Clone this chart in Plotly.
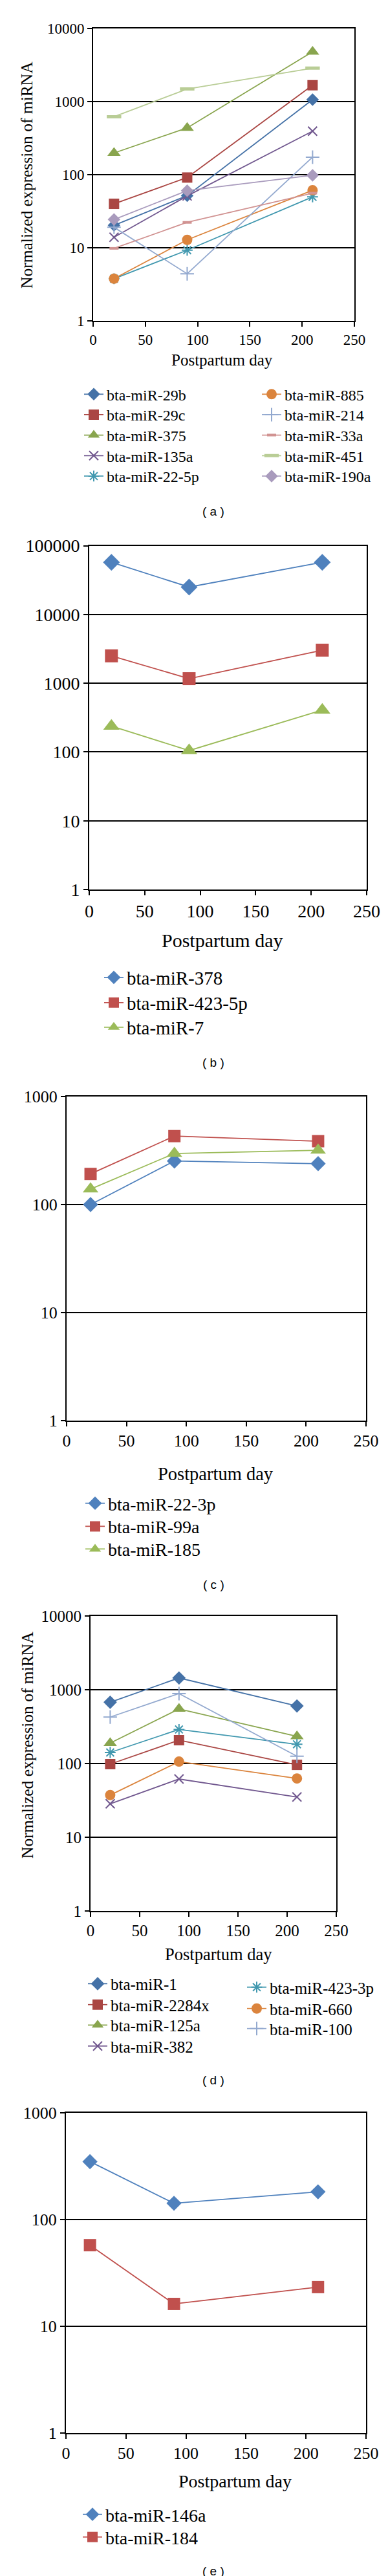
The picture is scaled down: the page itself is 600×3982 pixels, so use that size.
import plotly.graph_objects as go

W, H = 600, 3982
days = [20, 90, 210]
x_ticks = [0, 50, 100, 150, 200, 250]

# ---------------- Panel (a) data ----------------
a_names = ["bta-miR-29b", "bta-miR-29c", "bta-miR-375", "bta-miR-135a", "bta-miR-22-5p",
           "bta-miR-885", "bta-miR-214", "bta-miR-33a", "bta-miR-451", "bta-miR-190a"]
a_mir29b = [20.2, 51.5, 1057]
a_mir29c = [39.8, 91, 1660]
a_mir375 = [197, 434, 4760]
a_mir135a = [13.9, 51, 392]
a_mir22_5p = [3.77, 9.25, 49.5]
a_mir885 = [3.77, 12.8, 61]
a_mir214 = [19, 4.4, 173]
a_mir33a = [9.8, 22.2, 55.7]
a_mir451 = [617, 1477, 2846]
a_mir190a = [24.3, 60.2, 97.7]

# ---------------- Panel (b) data ----------------
b_names = ["bta-miR-378", "bta-miR-423-5p", "bta-miR-7"]
b_mir378 = [57400, 25060, 57400]
b_mir423_5p = [2500, 1166, 3027]
b_mir7 = [238, 105, 407]

# ---------------- Panel (c) data ----------------
c_names = ["bta-miR-22-3p", "bta-miR-99a", "bta-miR-185"]
c_mir22_3p = [100, 253, 239]
c_mir99a = [192, 430, 386]
c_mir185 = [139, 297, 318]

# ---------------- Panel (d) data ----------------
d_names = ["bta-miR-1", "bta-miR-2284x", "bta-miR-125a", "bta-miR-382",
           "bta-miR-423-3p", "bta-miR-660", "bta-miR-100"]
d_mir1 = [677, 1445, 603]
d_mir2284x = [98, 207, 95.8]
d_mir125a = [189, 550, 233]
d_mir382 = [28.4, 61.6, 35.1]
d_mir423_3p = [141, 289, 182]
d_mir660 = [37.3, 106, 62.6]
d_mir100 = [426, 888, 125.6]

# ---------------- Panel (e) data ----------------
e_names = ["bta-miR-146a", "bta-miR-184"]
e_mir146a = [349, 142, 182]
e_mir184 = [57.5, 16.2, 23.3]

SERIF = "Liberation Serif"
SANS = "Liberation Sans"

# style definitions (color, symbol, size, line width for open symbols)
xl = dict(
    blue="#4572A7", red="#AA4643", green="#89A54E", purple="#71588F", teal="#4198AF",
    orange="#DB843D", lblue="#93A9CF", pink="#D19392", lgreen="#B9CD96", lav="#A99BBD",
    blue2="#4F81BD", red2="#C0504D", green2="#9BBB59",
)

fig = go.Figure()

def fx(px):
    return px / W

def fy(py):
    return 1 - py / H

panels = [
    # name, x0, x1, y0(top), y1(bottom), decades, tick font, title font
    ("a", 136, 540, 35.6, 488, 4, 23, 25),
    ("b", 130, 559, 835.6, 1367, 5, 28, 30),
    ("c", 95, 558, 1687, 2188, 3, 26, 28.5),
    ("d", 132, 512, 2490, 2946, 4, 25, 26.5),
    ("e", 94, 558, 3258, 3753, 3, 26, 28),
]

layout_axes = {}
for i, (nm, x0, x1, y0, y1, dec, tfs, ttl) in enumerate(panels):
    k = "" if i == 0 else str(i + 1)
    layout_axes["xaxis" + k] = dict(
        domain=[fx(x0), fx(x1)], anchor="y" + k, range=[0, 250],
        tickvals=x_ticks, ticktext=[str(v) for v in x_ticks],
        showgrid=False, zeroline=False, showline=True, linecolor="black", linewidth=2,
        mirror=True, ticks="outside", ticklen=7, tickwidth=2, tickcolor="black",
        tickfont=dict(family=SERIF, size=tfs, color="black"), automargin=False,
    )
    yt = [10 ** j for j in range(dec + 1)]
    layout_axes["yaxis" + k] = dict(
        domain=[fy(y1), fy(y0)], anchor="x" + k, type="log", range=[0, dec],
        tickvals=yt, ticktext=[str(v) for v in yt],
        showgrid=True, gridcolor="black", gridwidth=1.6, zeroline=False,
        showline=True, linecolor="black", linewidth=2, mirror=True,
        ticks="outside", ticklen=7, tickwidth=2, tickcolor="black",
        tickfont=dict(family=SERIF, size=tfs, color="black"), automargin=False,
    )

legend_cfg = {}
leg_count = [0]

def add_series(panel_idx, name, vals, color, symbol, msize, lx_text, ly, lfs, open_w=None):
    leg_count[0] += 1
    n = leg_count[0]
    lname = "legend" if n == 1 else "legend%d" % n
    k = "" if panel_idx == 0 else str(panel_idx + 1)
    marker = dict(symbol=symbol, size=msize, color=color)
    if open_w is not None:
        marker["line"] = dict(color=color, width=open_w)
    else:
        marker["line"] = dict(width=0)
    fig.add_trace(go.Scatter(
        x=days, y=vals, name=name, mode="lines+markers",
        line=dict(color=color, width=1.8), marker=marker,
        xaxis="x" + k, yaxis="y" + k, legend=lname, showlegend=True,
    ))
    legend_cfg[lname] = dict(
        x=fx(lx_text - 42), y=fy(ly), xanchor="left", yanchor="middle",
        bgcolor="rgba(0,0,0,0)", borderwidth=0,
        font=dict(family=SERIF, size=lfs, color="black"),
        itemclick=False, itemdoubleclick=False,
    )

# Panel (a)
a_rows = [601.7, 633.3, 665, 696.7, 728.3]
a_series = [
    (a_mir29b, xl["blue"], "diamond", 15, None),
    (a_mir29c, xl["red"], "square", 16, None),
    (a_mir375, xl["green"], "triangle-up", 18, None),
    (a_mir135a, xl["purple"], "x-thin-open", 14, 2),
    (a_mir22_5p, xl["teal"], "asterisk-open", 14, 2),
    (a_mir885, xl["orange"], "circle", 16, None),
    (a_mir214, xl["lblue"], "cross-thin-open", 15, 2),
    (a_mir33a, xl["pink"], "line-ew-open", 10, 4),
    (a_mir451, xl["lgreen"], "line-ew-open", 16, 5),
    (a_mir190a, xl["lav"], "diamond", 15, None),
]
for j, (vals, col, sym, ms, ow) in enumerate(a_series):
    tx = 159 if j < 5 else 434
    add_series(0, a_names[j], vals, col, sym, ms, tx, a_rows[j % 5], 24, ow)

# Panel (b)
b_rows = [1503, 1542, 1580]
b_series = [
    (b_mir378, xl["blue2"], "diamond", 20),
    (b_mir423_5p, xl["red2"], "square", 20),
    (b_mir7, xl["green2"], "triangle-up", 22),
]
for j, (vals, col, sym, ms) in enumerate(b_series):
    add_series(1, b_names[j], vals, col, sym, ms, 190, b_rows[j], 29)

# Panel (c)
c_rows = [2316, 2351.7, 2386.7]
c_series = [
    (c_mir22_3p, xl["blue2"], "diamond", 18),
    (c_mir99a, xl["red2"], "square", 19),
    (c_mir185, xl["green2"], "triangle-up", 21),
]
for j, (vals, col, sym, ms) in enumerate(c_series):
    add_series(2, c_names[j], vals, col, sym, ms, 161, c_rows[j], 28)

# Panel (d)
d_rows_1 = [3058.7, 3091, 3122.6, 3155]
d_rows_2 = [3064, 3097, 3128]
d_series = [
    (d_mir1, xl["blue"], "diamond", 16, None),
    (d_mir2284x, xl["red"], "square", 16, None),
    (d_mir125a, xl["green"], "triangle-up", 18, None),
    (d_mir382, xl["purple"], "x-thin-open", 14, 2),
    (d_mir423_3p, xl["teal"], "asterisk-open", 14, 2),
    (d_mir660, xl["orange"], "circle", 16, None),
    (d_mir100, xl["lblue"], "cross-thin-open", 15, 2),
]
for j, (vals, col, sym, ms, ow) in enumerate(d_series):
    if j < 4:
        add_series(3, d_names[j], vals, col, sym, ms, 165, d_rows_1[j], 25, ow)
    else:
        add_series(3, d_names[j], vals, col, sym, ms, 411, d_rows_2[j - 4], 25, ow)

# Panel (e)
e_rows = [3879, 3914]
e_series = [
    (e_mir146a, xl["blue2"], "diamond", 18),
    (e_mir184, xl["red2"], "square", 19),
]
for j, (vals, col, sym, ms) in enumerate(e_series):
    add_series(4, e_names[j], vals, col, sym, ms, 157, e_rows[j], 28)

annotations = []
# x-axis titles
for (cx, cy, fs) in [(335, 549, 25), (336, 1445, 30), (325, 2270, 28.5), (330, 3013, 26.5), (355, 3827, 28)]:
    annotations.append(dict(text="Postpartum day", x=fx(cx), y=fy(cy), xref="paper", yref="paper",
                            showarrow=False, xanchor="center", yanchor="middle",
                            font=dict(family=SERIF, size=fs, color="black")))
# y-axis titles
for (cx, cy, fs) in [(33, 263, 25.5), (34, 2690, 25.5)]:
    annotations.append(dict(text="Normalized expression of miRNA", x=fx(cx), y=fy(cy),
                            xref="paper", yref="paper", showarrow=False, textangle=-90,
                            xanchor="center", yanchor="middle",
                            font=dict(family=SERIF, size=fs, color="black")))
# captions
for (lab, cy) in [("a", 782), ("b", 1635), ("c", 2441.7), ("d", 3207), ("e", 3966.7)]:
    annotations.append(dict(text="( %s )" % lab, x=fx(322), y=fy(cy), xref="paper", yref="paper",
                            showarrow=False, xanchor="center", yanchor="middle",
                            font=dict(family=SANS, size=19, color="black")))

fig.update_layout(
    width=W, height=H, autosize=False,
    margin=dict(l=0, r=0, t=0, b=0, pad=0),
    paper_bgcolor="white", plot_bgcolor="white",
    annotations=annotations,
    **layout_axes,
    **legend_cfg,
)

fig.write_html("out.html")
